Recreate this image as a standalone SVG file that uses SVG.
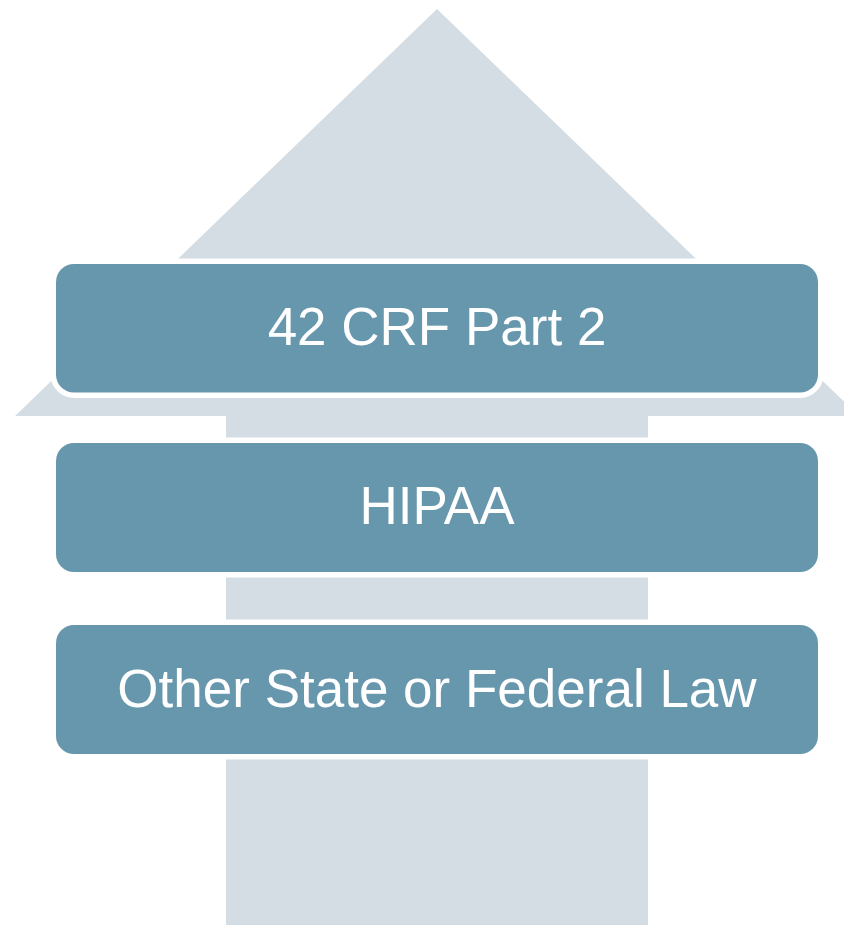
<svg xmlns="http://www.w3.org/2000/svg" width="844" height="925" viewBox="0 0 844 925">
  <style>
    .arrow { fill: #D5DDE4; }
    .box { fill: #6797AD; stroke: #FFFFFF; stroke-width: 11; paint-order: stroke; }
    .label { fill: #FFFFFF; font-family: "Liberation Sans", Arial, sans-serif; font-size: 53px; text-anchor: middle; }
  </style>
  <rect width="844" height="925" fill="#FFFFFF"/>

  <!-- Upward block arrow behind the stacked boxes -->
  <g id="arrow">
    <polygon class="arrow" points="437,9 859,416 648,416 648,925 226,925 226,416 15,416"/>
  </g>

  <g id="node-42crf">
    <rect class="box" x="56" y="264" width="762" height="128.5" rx="18" ry="18"/>
    <text class="label" x="437" y="345">42 CRF Part 2</text>
  </g>

  <g id="node-hipaa">
    <rect class="box" x="56" y="443" width="762" height="129" rx="18" ry="18"/>
    <text class="label" x="437" y="524">HIPAA</text>
  </g>

  <g id="node-other-law">
    <rect class="box" x="56" y="625" width="762" height="129" rx="18" ry="18"/>
    <text class="label" x="437" y="707">Other State or Federal Law</text>
  </g>
</svg>
